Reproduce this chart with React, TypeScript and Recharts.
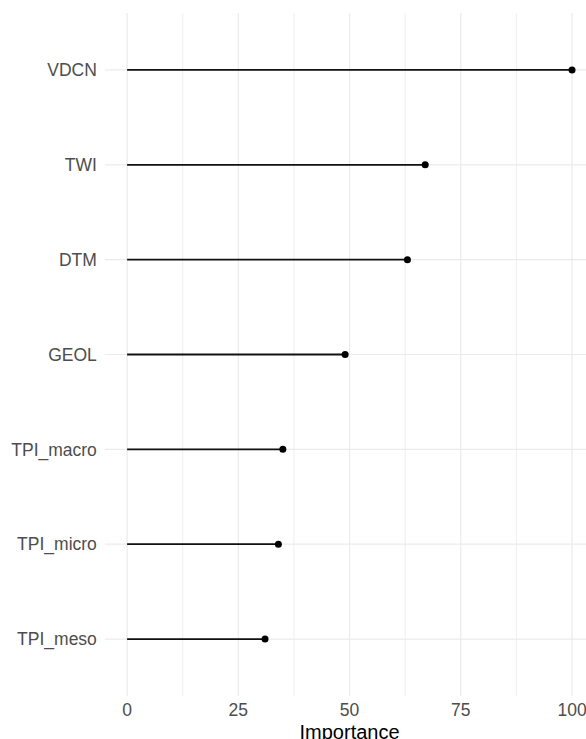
import { ReferenceLine, Scatter, ScatterChart, XAxis, YAxis } from "recharts";

const variables = ["VDCN", "TWI", "DTM", "GEOL", "TPI_macro", "TPI_micro", "TPI_meso"];
const importance = [100, 67, 63, 49, 35, 34, 31];
const majorTicks = [0, 25, 50, 75, 100];
const minorTicks = [12.5, 37.5, 62.5, 87.5];

const rows = variables.map((name, i) => ({ name, pos: i + 1, importance: importance[i] }));
const rowTicks = rows.map((r) => r.pos);

const tickStyle = { fontSize: 17.5, fill: "#4d4d4d" };

export default function App() {
  return (
    <div style={{ position: "absolute", left: 0, top: 0, width: 586, height: 739, overflow: "hidden", background: "#fff" }}>
      <ScatterChart
        width={600}
        height={739}
        margin={{ top: 13, right: 5.7, bottom: 0, left: 0 }}
        style={{ fontFamily: "'Liberation Sans', Arial, sans-serif" }}
      >
        <XAxis
          type="number"
          dataKey="importance"
          domain={[-5, 105]}
          ticks={majorTicks}
          interval={0}
          axisLine={false}
          tickLine={false}
          tick={tickStyle}
          height={43}
          label={{ value: "Importance", position: "insideBottom", offset: 0, fontSize: 20, fill: "#000" }}
        />
        <YAxis
          type="number"
          dataKey="pos"
          domain={[0.4, 7.6]}
          reversed
          ticks={rowTicks}
          interval={0}
          tickFormatter={(v: number) => variables[v - 1]}
          axisLine={false}
          tickLine={false}
          tick={tickStyle}
          width={104.85}
        />
        {minorTicks.map((v) => (
          <ReferenceLine key={`mn${v}`} x={v} stroke="#ebebeb" strokeWidth={0.8} />
        ))}
        {majorTicks.map((v) => (
          <ReferenceLine key={`mj${v}`} x={v} stroke="#ebebeb" strokeWidth={1.2} />
        ))}
        {rows.map((r) => (
          <ReferenceLine key={`h${r.name}`} y={r.pos} stroke="#ebebeb" strokeWidth={1.2} />
        ))}
        {rows.map((r) => (
          <ReferenceLine
            key={`s${r.name}`}
            segment={[{ x: 0, y: r.pos }, { x: r.importance, y: r.pos }]}
            stroke="#111"
            strokeWidth={1.8}
          />
        ))}
        <Scatter
          data={rows}
          isAnimationActive={false}
          fill="#000"
          shape={(p: any) => <circle cx={p.cx} cy={p.cy} r={3.5} fill="#000" />}
        />
      </ScatterChart>
    </div>
  );
}
